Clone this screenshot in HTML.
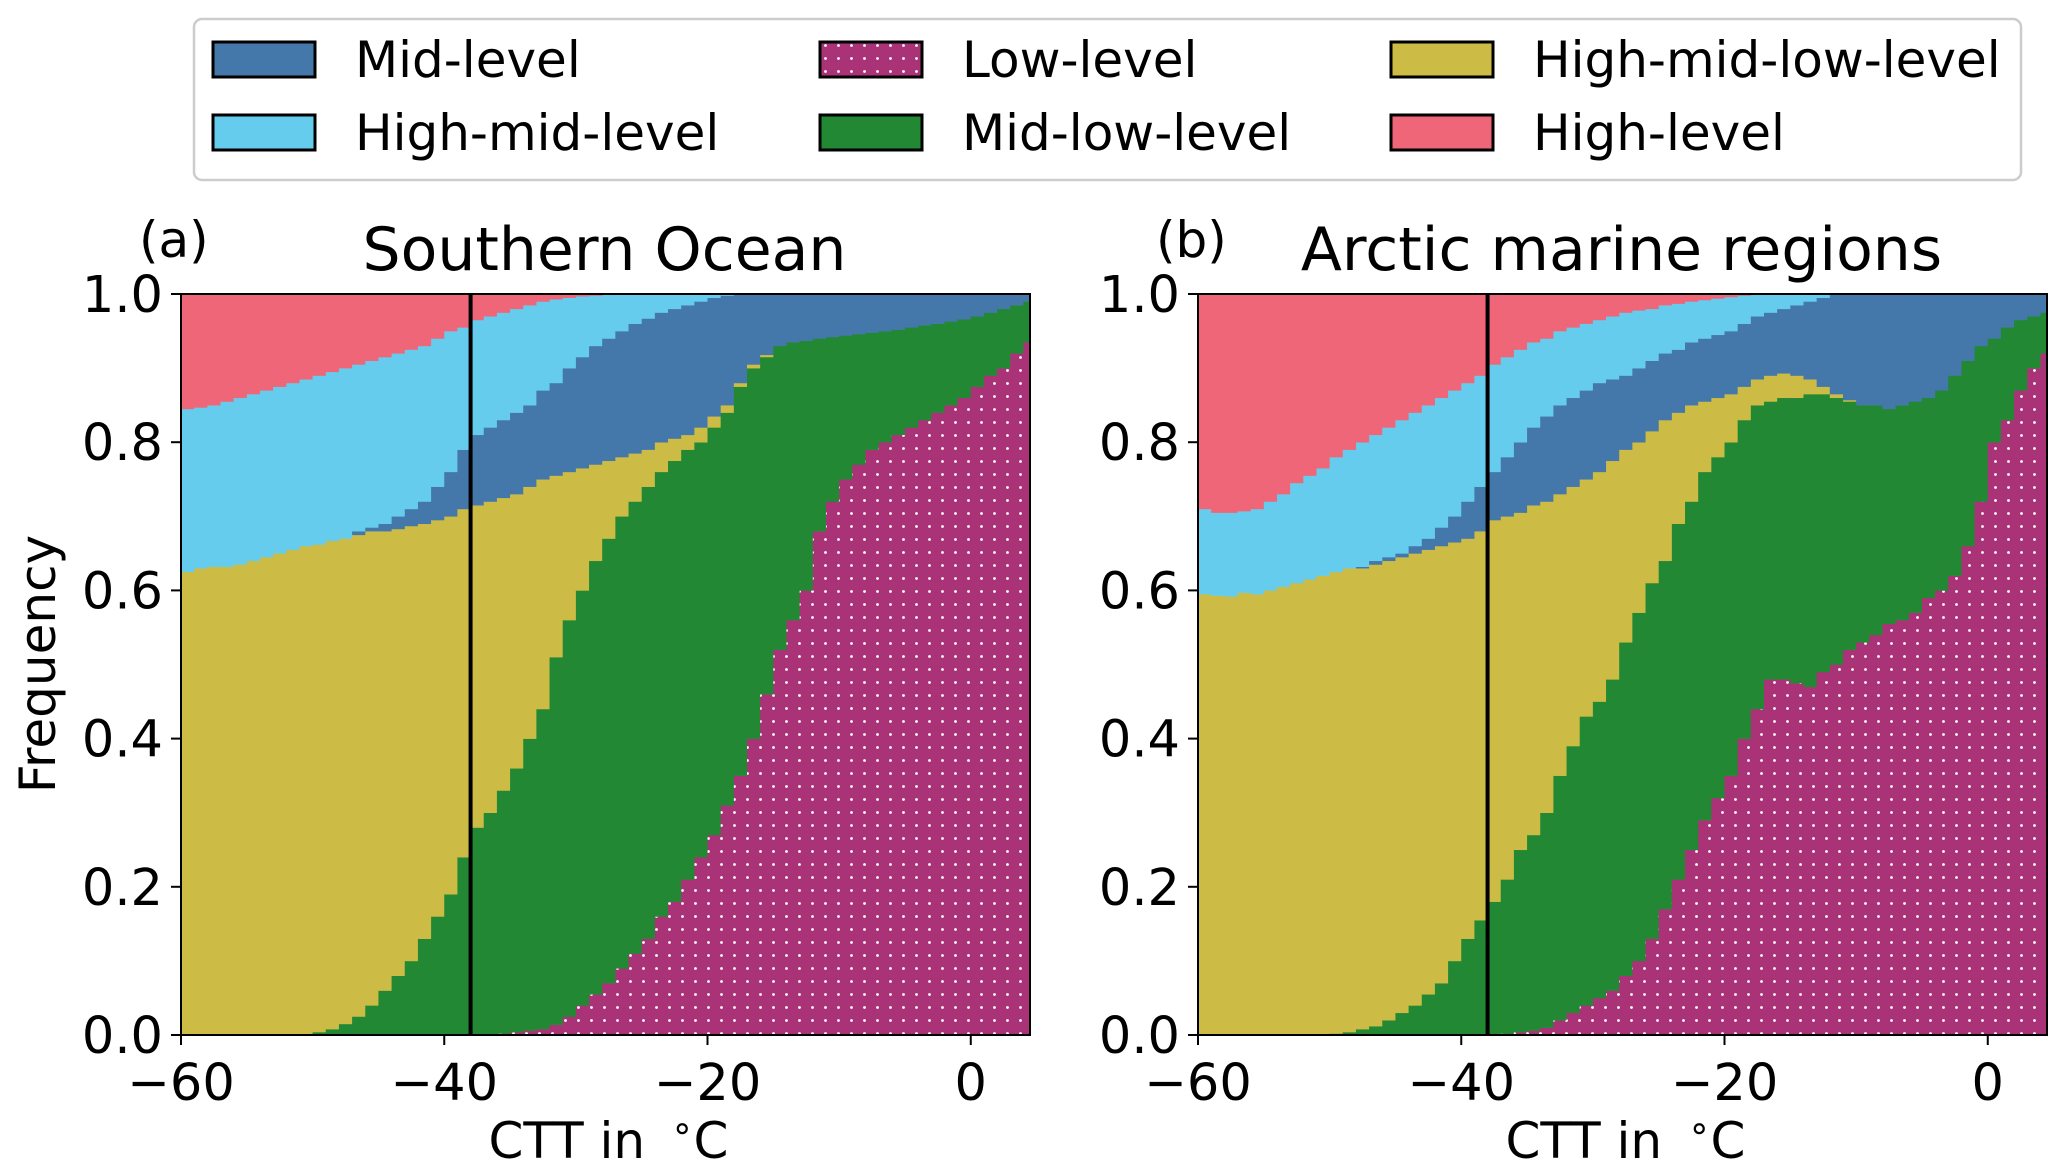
<!DOCTYPE html>
<html><head><meta charset="utf-8"><style>
html,body{margin:0;padding:0;background:#fff;}
svg{display:block;font-family:"DejaVu Sans","Liberation Sans",sans-serif;}
</style></head><body>
<svg id="fig" width="2067" height="1174" viewBox="0 0 2067 1174" xmlns="http://www.w3.org/2000/svg">
<defs>
<pattern id="dots" patternUnits="userSpaceOnUse" width="13" height="13">
<rect width="13" height="13" fill="#AA3377"/>
<circle cx="6.5" cy="6.5" r="1.4" fill="#ffffff"/>
</pattern>
<clipPath id="clipA"><rect x="181" y="294" width="849" height="741"/></clipPath>
<clipPath id="clipB"><rect x="1198" y="294" width="849" height="741"/></clipPath>
</defs>
<g>
<rect x="194" y="19" width="1827" height="161" rx="8" fill="#fff" stroke="#cccccc" stroke-width="2.5"/>
<g><rect x="213" y="42" width="102" height="35" fill="#4477AA" stroke="#000" stroke-width="3"/><text x="355" y="77" font-size="50">Mid-level</text></g>
<g><rect x="213" y="115" width="102" height="35" fill="#66CCEE" stroke="#000" stroke-width="3"/><text x="355" y="150" font-size="50">High-mid-level</text></g>
<g><rect x="820" y="42" width="102" height="35" fill="url(#dots)" stroke="#000" stroke-width="3"/><text x="962" y="77" font-size="50">Low-level</text></g>
<g><rect x="820" y="115" width="102" height="35" fill="#228833" stroke="#000" stroke-width="3"/><text x="962" y="150" font-size="50">Mid-low-level</text></g>
<g><rect x="1391" y="42" width="102" height="35" fill="#CCBB44" stroke="#000" stroke-width="3"/><text x="1533" y="77" font-size="50">High-mid-low-level</text></g>
<g><rect x="1391" y="115" width="102" height="35" fill="#EE6677" stroke="#000" stroke-width="3"/><text x="1533" y="150" font-size="50">High-level</text></g>
</g>
<g id="panelA"></g>
<g id="panelB"></g>
</svg>
<script>
// Bin left edges: -60 .. 4 (1 degree bins). Values are cumulative tops of each stacked class.
const binStart = -60;
const nBins = 65;
const xTicks = [-60, -40, -20, 0];
const yTicks = [0.0, 0.2, 0.4, 0.6, 0.8, 1.0];
const yTickLabels = ["0.0", "0.2", "0.4", "0.6", "0.8", "1.0"];
const thresholdT = -38;

// Panel a: Southern Ocean
const aLow = [0,0,0,0,0,0,0,0,0,0,0,0,0,0,0,0,0,0,0,0,0,0,0,0,
0.002,0.004,0.006,0.008,0.014,0.025,0.04,0.055,0.07,0.09,0.11,0.13,0.16,0.18,0.21,0.24,0.27,0.31,0.35,0.40,0.46,0.52,0.56,0.60,0.68,0.72,0.75,0.77,0.79,0.80,0.81,0.82,0.83,0.84,0.85,0.86,0.875,0.89,0.90,0.92,0.935];
const aMidLow = [0,0,0,0,0,0,0,0,0,
0.001,0.004,0.008,0.015,0.025,0.04,0.06,0.08,0.10,0.13,0.16,0.19,0.24,
0.28,0.30,0.33,0.36,0.40,0.44,0.51,0.56,0.60,0.64,0.67,0.70,0.72,0.74,0.76,0.775,0.79,0.80,0.82,0.84,0.875,0.90,0.915,0.93,0.935,0.937,0.94,0.942,0.944,0.946,0.948,0.95,0.952,0.955,0.958,0.96,0.963,0.966,0.97,0.975,0.98,0.985,0.99];
const aHighMidLow = [0.625,0.63,0.632,0.632,0.635,0.64,0.645,0.65,0.655,0.66,0.662,0.667,0.67,0.675,0.68,0.68,0.683,0.687,0.69,0.695,0.70,0.71,
0.715,0.72,0.725,0.73,0.74,0.75,0.755,0.76,0.765,0.77,0.775,0.78,0.785,0.79,0.80,0.805,0.81,0.82,0.835,0.85,0.88,0.905,0.918,
0.93,0.935,0.937,0.94,0.942,0.944,0.946,0.948,0.95,0.952,0.955,0.958,0.96,0.963,0.966,0.97,0.975,0.98,0.985,0.99];
const aMid = [0.625,0.63,0.632,0.632,0.635,0.64,0.645,0.65,0.655,0.66,0.662,0.667,0.67,
0.68,0.685,0.69,0.70,0.71,0.72,0.74,0.76,0.79,
0.81,0.82,0.83,0.84,0.85,0.87,0.88,0.90,0.915,0.93,0.94,0.95,0.96,0.967,0.975,0.98,0.985,0.99,0.995,0.998,
1,1,1,1,1,1,1,1,1,1,1,1,1,1,1,1,1,1,1,1,1,1,1];
const aHighMid = [0.845,0.847,0.85,0.855,0.86,0.865,0.87,0.875,0.88,0.885,0.89,0.895,0.90,0.905,0.91,0.915,0.92,0.925,0.93,0.94,0.95,0.955,
0.965,0.97,0.975,0.98,0.985,0.99,0.993,0.995,0.997,0.998,0.999,
1,1,1,1,1,1,1,1,1,1,1,1,1,1,1,1,1,1,1,1,1,1,1,1,1,1,1,1,1,1,1,1];

// Panel b: Arctic marine regions
const bLow = [0,0,0,0,0,0,0,0,0,0,0,0,0,0,0,0,0,0,0,0,0,0,0,
0.002,0.004,0.006,0.01,0.02,0.03,0.04,0.05,0.06,0.08,0.10,0.13,0.17,0.21,0.25,0.29,0.32,0.35,0.40,0.44,0.48,0.48,0.475,0.47,0.49,0.50,0.52,0.53,0.54,0.555,0.56,0.57,0.59,0.60,0.62,0.66,0.72,0.80,0.83,0.87,0.90,0.92];
const bMidLow = [0,0,0,0,0,0,0,0,0,0,
0.002,0.004,0.008,0.012,0.02,0.03,0.04,0.055,0.07,0.10,0.13,0.155,
0.18,0.21,0.25,0.27,0.30,0.35,0.39,0.43,0.45,0.48,0.53,0.57,0.61,0.64,0.69,0.72,0.76,0.78,0.80,0.83,0.85,0.855,0.86,0.86,0.865,0.865,0.86,0.855,0.85,0.85,0.845,0.85,0.855,0.86,0.87,0.89,0.91,0.93,0.94,0.955,0.965,0.97,0.975];
const bHighMidLow = [0.595,0.593,0.592,0.597,0.595,0.60,0.605,0.61,0.615,0.62,0.625,0.63,0.63,0.635,0.64,0.645,0.65,0.655,0.66,0.665,0.67,0.68,
0.695,0.70,0.705,0.715,0.72,0.73,0.74,0.75,0.76,0.775,0.79,0.80,0.815,0.83,0.84,0.85,0.855,0.86,0.865,0.875,0.885,0.89,0.893,0.89,0.885,0.875,0.865,0.857,
0.85,0.85,0.845,0.85,0.855,0.86,0.87,0.89,0.91,0.93,0.94,0.955,0.965,0.97,0.975];
const bMid = [0.595,0.593,0.592,0.597,0.595,0.60,0.605,0.61,0.615,0.62,0.625,0.63,
0.632,0.64,0.645,0.65,0.66,0.67,0.685,0.70,0.72,0.74,
0.76,0.78,0.80,0.82,0.835,0.85,0.86,0.87,0.88,0.885,0.89,0.90,0.91,0.92,0.925,0.935,0.94,0.945,0.95,0.96,0.97,0.975,0.98,0.985,0.99,0.995,
1,1,1,1,1,1,1,1,1,1,1,1,1,1,1,1,1];
const bHighMid = [0.71,0.705,0.705,0.707,0.71,0.72,0.73,0.745,0.755,0.765,0.78,0.79,0.80,0.81,0.82,0.83,0.84,0.85,0.86,0.87,0.88,0.89,
0.905,0.915,0.925,0.935,0.94,0.95,0.955,0.96,0.965,0.97,0.975,0.978,0.98,0.985,0.987,0.99,0.992,0.994,0.996,0.998,0.999,
1,1,1,1,1,1,1,1,1,1,1,1,1,1,1,1,1,1,1,1,1,1];

const NS = "http://www.w3.org/2000/svg";
function mk(tag, attrs, parent){
  const e = document.createElementNS(NS, tag);
  for (const k in attrs) e.setAttribute(k, attrs[k]);
  parent.appendChild(e);
  return e;
}

function drawPanel(g, x0, clipId, series, title, letter){
  const y0 = 294, w = 849, h = 741;
  const xmin = -60, xmax = 4.5;
  const X = t => x0 + (t - xmin) / (xmax - xmin) * w;
  const Y = v => y0 + h - v * h;
  const bars = mk('g', {'clip-path': 'url(#' + clipId + ')'}, g);
  
  
  const layers = [
    {name:'low-level', fill:'url(#dots)', top:series[0]},
    {name:'mid-low-level', fill:'#228833', top:series[1]},
    {name:'high-mid-low-level', fill:'#CCBB44', top:series[2]},
    {name:'mid-level', fill:'#4477AA', top:series[3]},
    {name:'high-mid-level', fill:'#66CCEE', top:series[4]},
    {name:'high-level', fill:'#EE6677', top:null}
  ];
  for (let i = 0; i < nBins; i++){
    const t = binStart + i;
    let prev = 0;
    for (const L of layers){
      let top = L.top ? Math.max(prev, Math.min(1, L.top[i])) : 1;
      if (top > prev){
        const r = mk('rect', {x: X(t), y: Y(top), width: X(t+1) - X(t) + 0.6, height: Y(prev) - Y(top) + 0.3, fill: L.fill}, bars);
        
        
      }
      prev = top;
    }
  }
  const vl = mk('line', {x1: X(thresholdT), x2: X(thresholdT), y1: y0, y2: y0 + h, stroke: '#000', 'stroke-width': 4}, g);
  
  
  const fr = mk('rect', {x: x0, y: y0, width: w, height: h, fill: 'none', stroke: '#000', 'stroke-width': 2}, g);
  
  
  yTicks.forEach((v, k) => {
    mk('line', {x1: x0 - 10, x2: x0, y1: Y(v), y2: Y(v), stroke: '#000', 'stroke-width': 2}, g);
    const tx = mk('text', {x: x0 - 18, y: Y(v) + 18, 'font-size': 51, 'text-anchor': 'end'}, g);
    tx.textContent = yTickLabels[k];
    
    
  });
  xTicks.forEach(t => {
    mk('line', {x1: X(t), x2: X(t), y1: y0 + h, y2: y0 + h + 10, stroke: '#000', 'stroke-width': 2}, g);
    const tx = mk('text', {x: X(t), y: 1100, 'font-size': 51, 'text-anchor': 'middle'}, g);
    tx.textContent = t < 0 ? '\u2212' + Math.abs(t) : String(t);
    
    
  });
  const xl = mk('text', {x: x0 + w / 2 + 3, y: 1158, 'font-size': 50, 'text-anchor': 'middle'}, g);
  
  
  const s1 = mk('tspan', {}, xl); s1.textContent = 'CTT in \u2009';
  const s2 = mk('tspan', {dy: -18, 'font-size': 36}, xl); s2.textContent = '\u2218';
  const s3 = mk('tspan', {dy: 18}, xl); s3.textContent = 'C';
  const tt = mk('text', {x: x0 + w / 2 - 1, y: 270, 'font-size': 60, 'text-anchor': 'middle'}, g);
  tt.textContent = title;
  
  
  const lt = mk('text', {x: x0 - 42, y: 257, 'font-size': 50}, g);
  lt.textContent = letter;
  
  
}

drawPanel(document.getElementById('panelA'), 181, 'clipA', [aLow, aMidLow, aHighMidLow, aMid, aHighMid], 'Southern Ocean', '(a)');
drawPanel(document.getElementById('panelB'), 1198, 'clipB', [bLow, bMidLow, bHighMidLow, bMid, bHighMid], 'Arctic marine regions', '(b)');

const yl = mk('text', {x: 0, y: 0, 'font-size': 50, 'text-anchor': 'middle', transform: 'translate(55,664) rotate(-90)'}, document.getElementById('fig'));
yl.textContent = 'Frequency';


</script>
</body></html>
